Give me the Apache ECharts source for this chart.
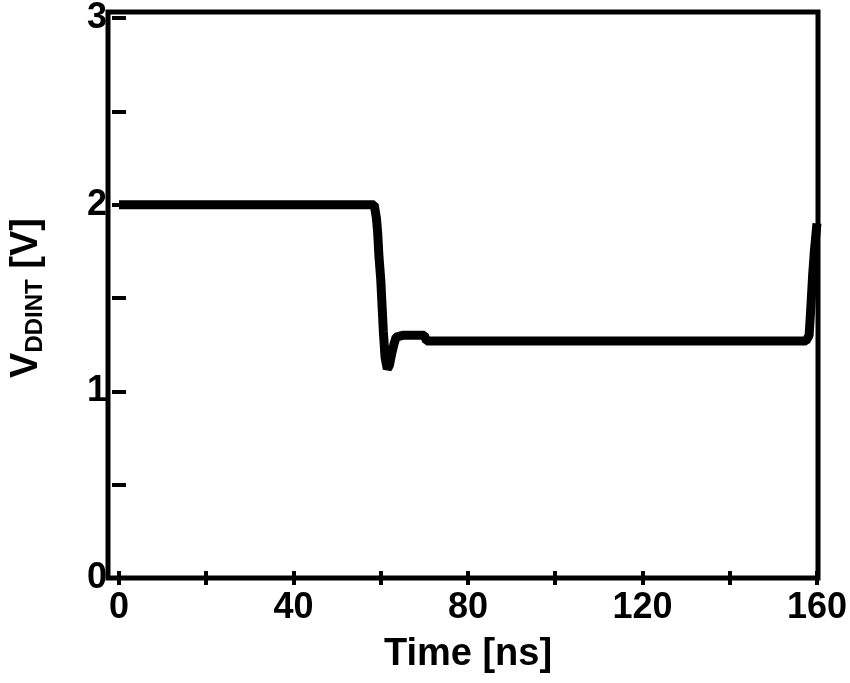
<!DOCTYPE html>
<html><head><meta charset="utf-8">
<script src="https://cdn.jsdelivr.net/npm/echarts@6/dist/echarts.min.js"></script>
<style>html,body{margin:0;padding:0;background:#fff}#c{width:850px;height:683px}</style>
</head><body><div id="c"></div>
<script>
const timeNs = [0, 58.5, 59.0, 59.3, 59.6, 60.0, 60.3, 60.6, 61.0, 61.5, 62.0, 62.5, 63.0, 63.5, 65, 70, 70.5, 100, 157.5, 158.2, 158.6, 159.0, 159.4, 159.8, 160];
const vddint = [2.0, 2.0, 1.93, 1.85, 1.72, 1.60, 1.46, 1.32, 1.18, 1.12, 1.14, 1.20, 1.25, 1.29, 1.30, 1.30, 1.27, 1.27, 1.27, 1.30, 1.45, 1.62, 1.75, 1.85, 1.90];
const xTicks = [0, 40, 80, 120, 160];
const yTicks = [0, 1, 2, 3];

const chart = echarts.init(document.getElementById('c'));
const font = 'Liberation Sans';
const tick = { inside: true, length: 7, lineStyle: { width: 4, color: '#000' } };
const lbl = { fontFamily: font, fontWeight: 'bold', fontSize: 36, color: '#000' };
chart.setOption({
  animation: false,
  grid: { left: 108, right: 32, top: 12, bottom: 105 },
  xAxis: [{
    type: 'value', min: 0, max: 160, interval: 20,
    axisLine: { show: false }, axisTick: tick, splitLine: { show: false },
    axisLabel: Object.assign({ margin: 12, formatter: v => xTicks.includes(v) ? v : '' }, lbl),
    name: 'Time [ns]', nameLocation: 'middle', nameGap: 58,
    nameTextStyle: Object.assign({}, lbl, { fontSize: 38 })
  }, {
    type: 'value', min: 0, max: 160, interval: 20, position: 'top',
    axisLine: { show: false }, axisTick: tick, splitLine: { show: false }, axisLabel: { show: false }
  }],
  yAxis: [{
    type: 'value', min: 0, max: 3, interval: 0.5,
    axisLine: { show: false }, axisTick: tick, splitLine: { show: false },
    axisLabel: Object.assign({ margin: 12, formatter: v => yTicks.includes(v) ? v : '' }, lbl),
    name: '{a|V}{b|DDINT}{a| [V]}', nameLocation: 'middle', nameGap: 72,
    nameTextStyle: { rich: {
      a: Object.assign({}, lbl, { fontSize: 38 }),
      b: { fontFamily: font, fontWeight: 'bold', fontSize: 24, color: '#000', verticalAlign: 'bottom', padding: [16, 0, 0, 0] }
    } }
  }, {
    type: 'value', min: 0, max: 3, interval: 0.5, position: 'right',
    axisLine: { show: false }, axisTick: tick, splitLine: { show: false }, axisLabel: { show: false }
  }],
  series: [{
    type: 'line', data: timeNs.map((t, i) => [t, vddint[i]]),
    showSymbol: false, lineStyle: { color: '#000', width: 9 }
  }],
  graphic: [{ type: 'rect', shape: { x: 108, y: 12, width: 710, height: 566 },
    style: { fill: 'none', stroke: '#000', lineWidth: 5 }, z: 100 }]
});
</script></body></html>
